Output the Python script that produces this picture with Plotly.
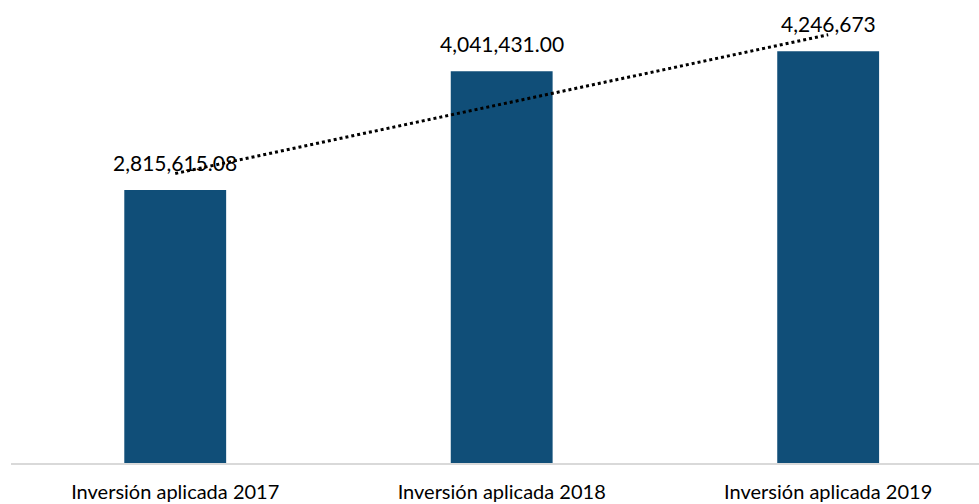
import numpy as np
import plotly.graph_objects as go

# Datos del gráfico
categorias = ["Inversión aplicada 2017", "Inversión aplicada 2018", "Inversión aplicada 2019"]
valores = [2815615.08, 4041431.00, 4246673]
etiquetas = ["2,815,615.08", "4,041,431.00", "4,246,673"]

x_idx = np.arange(len(categorias))

# Línea de tendencia lineal (como en Excel)
pend, inter = np.polyfit(x_idx, valores, 1)
tendencia = pend * x_idx + inter

fig = go.Figure()

fig.add_trace(go.Bar(
    x=x_idx,
    y=valores,
    width=0.312,
    marker=dict(color="#104E78", line=dict(width=0)),
    hoverinfo="skip",
))

fig.add_trace(go.Scatter(
    x=x_idx,
    y=tendencia,
    mode="lines",
    line=dict(color="black", width=3, dash="dot"),
    hoverinfo="skip",
    cliponaxis=False,
))

for i, (v, t) in enumerate(zip(valores, etiquetas)):
    fig.add_annotation(
        x=i, y=v, text=t, showarrow=False,
        yanchor="bottom", yshift=13,
        font=dict(family="Lato", size=21, color="black"),
    )

fig.update_layout(
    width=979, height=504,
    margin=dict(l=11, r=0, t=0, b=41),
    plot_bgcolor="white", paper_bgcolor="white",
    showlegend=False,
    xaxis=dict(
        range=[-0.503, 2.462],
        tickmode="array", tickvals=list(x_idx), ticktext=categorias,
        tickfont=dict(family="Lato", size=20, color="black"),
        showline=True, linecolor="#D9D9D9", linewidth=2,
        showgrid=False, zeroline=False, automargin=False,
        ticks="", ticklabelstandoff=10,
    ),
    yaxis=dict(
        range=[0, 4.775e6],
        visible=False, showgrid=False, zeroline=False, automargin=False,
    ),
)

fig.write_html("out.html", config={"displayModeBar": False},
               post_script="document.body.style.margin='0';")
